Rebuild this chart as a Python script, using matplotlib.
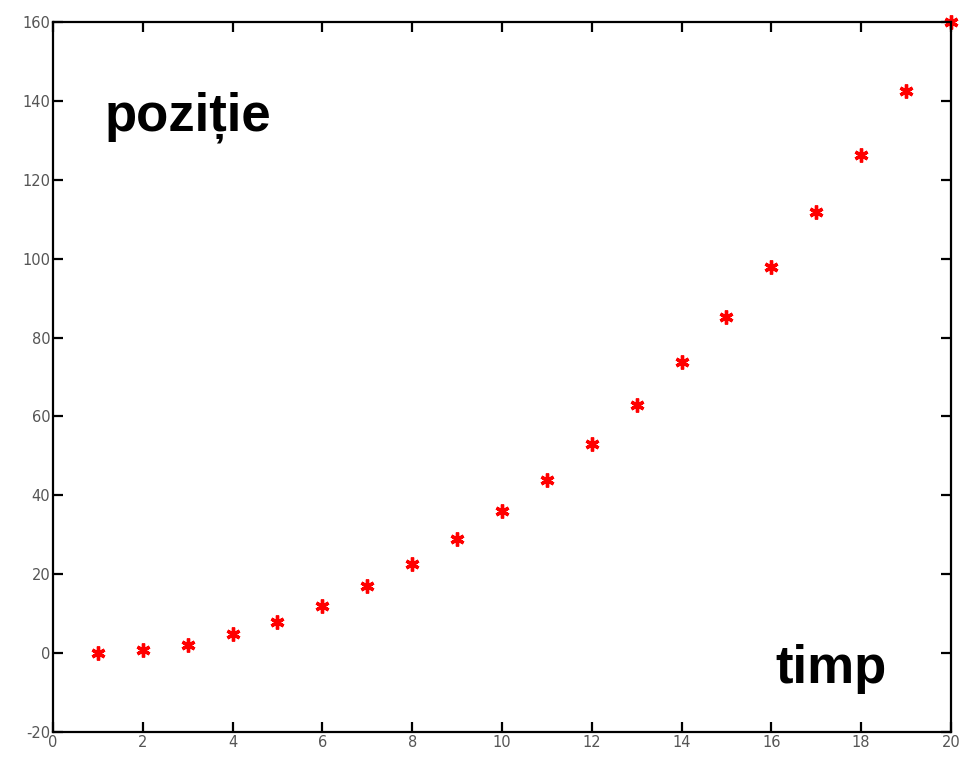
import matplotlib
matplotlib.use("Agg")
import matplotlib.pyplot as plt

# date
timp = [1, 2, 3, 4, 5, 6, 7, 8, 9, 10, 11, 12, 13, 14, 15, 16, 17, 18, 19, 20]
pozitie = [0, 0.7, 2, 4.8, 8, 12, 17, 22.5, 29, 36, 44, 53, 63, 73.7, 85.3,
           98, 111.8, 126.3, 142.5, 160]

xticks = list(range(0, 21, 2))
yticks = list(range(-20, 161, 20))

plt.rcParams['font.family'] = ['Liberation Sans', 'DejaVu Sans']
plt.rcParams['axes.unicode_minus'] = False

fig = plt.figure(figsize=(9.63, 7.57), dpi=100)
ax = fig.add_axes([0.055, 0.033, 0.9325, 0.938])

ax.plot(timp, pozitie, linestyle='none', marker=(6, 2, 0), color='red',
        markersize=10, markeredgewidth=2.4, clip_on=False)

ax.set_xlim(0, 20)
ax.set_ylim(-20, 160)
ax.set_xticks(xticks)
ax.set_yticks(yticks)
ax.tick_params(direction='in', length=7, width=1.6, labelsize=10.5,
               labelcolor='#555555', top=True, right=True, pad=2)
for lab in ax.get_xticklabels() + ax.get_yticklabels():
    lab.set_family('DejaVu Sans')
for s in ax.spines.values():
    s.set_linewidth(1.6)

ax.text(1.16, 132.6, 'poziție', fontsize=38, fontweight='bold')
ax.text(16.1, -7.6, 'timp', fontsize=38, fontweight='bold')

fig.savefig('out.png', dpi=100)
